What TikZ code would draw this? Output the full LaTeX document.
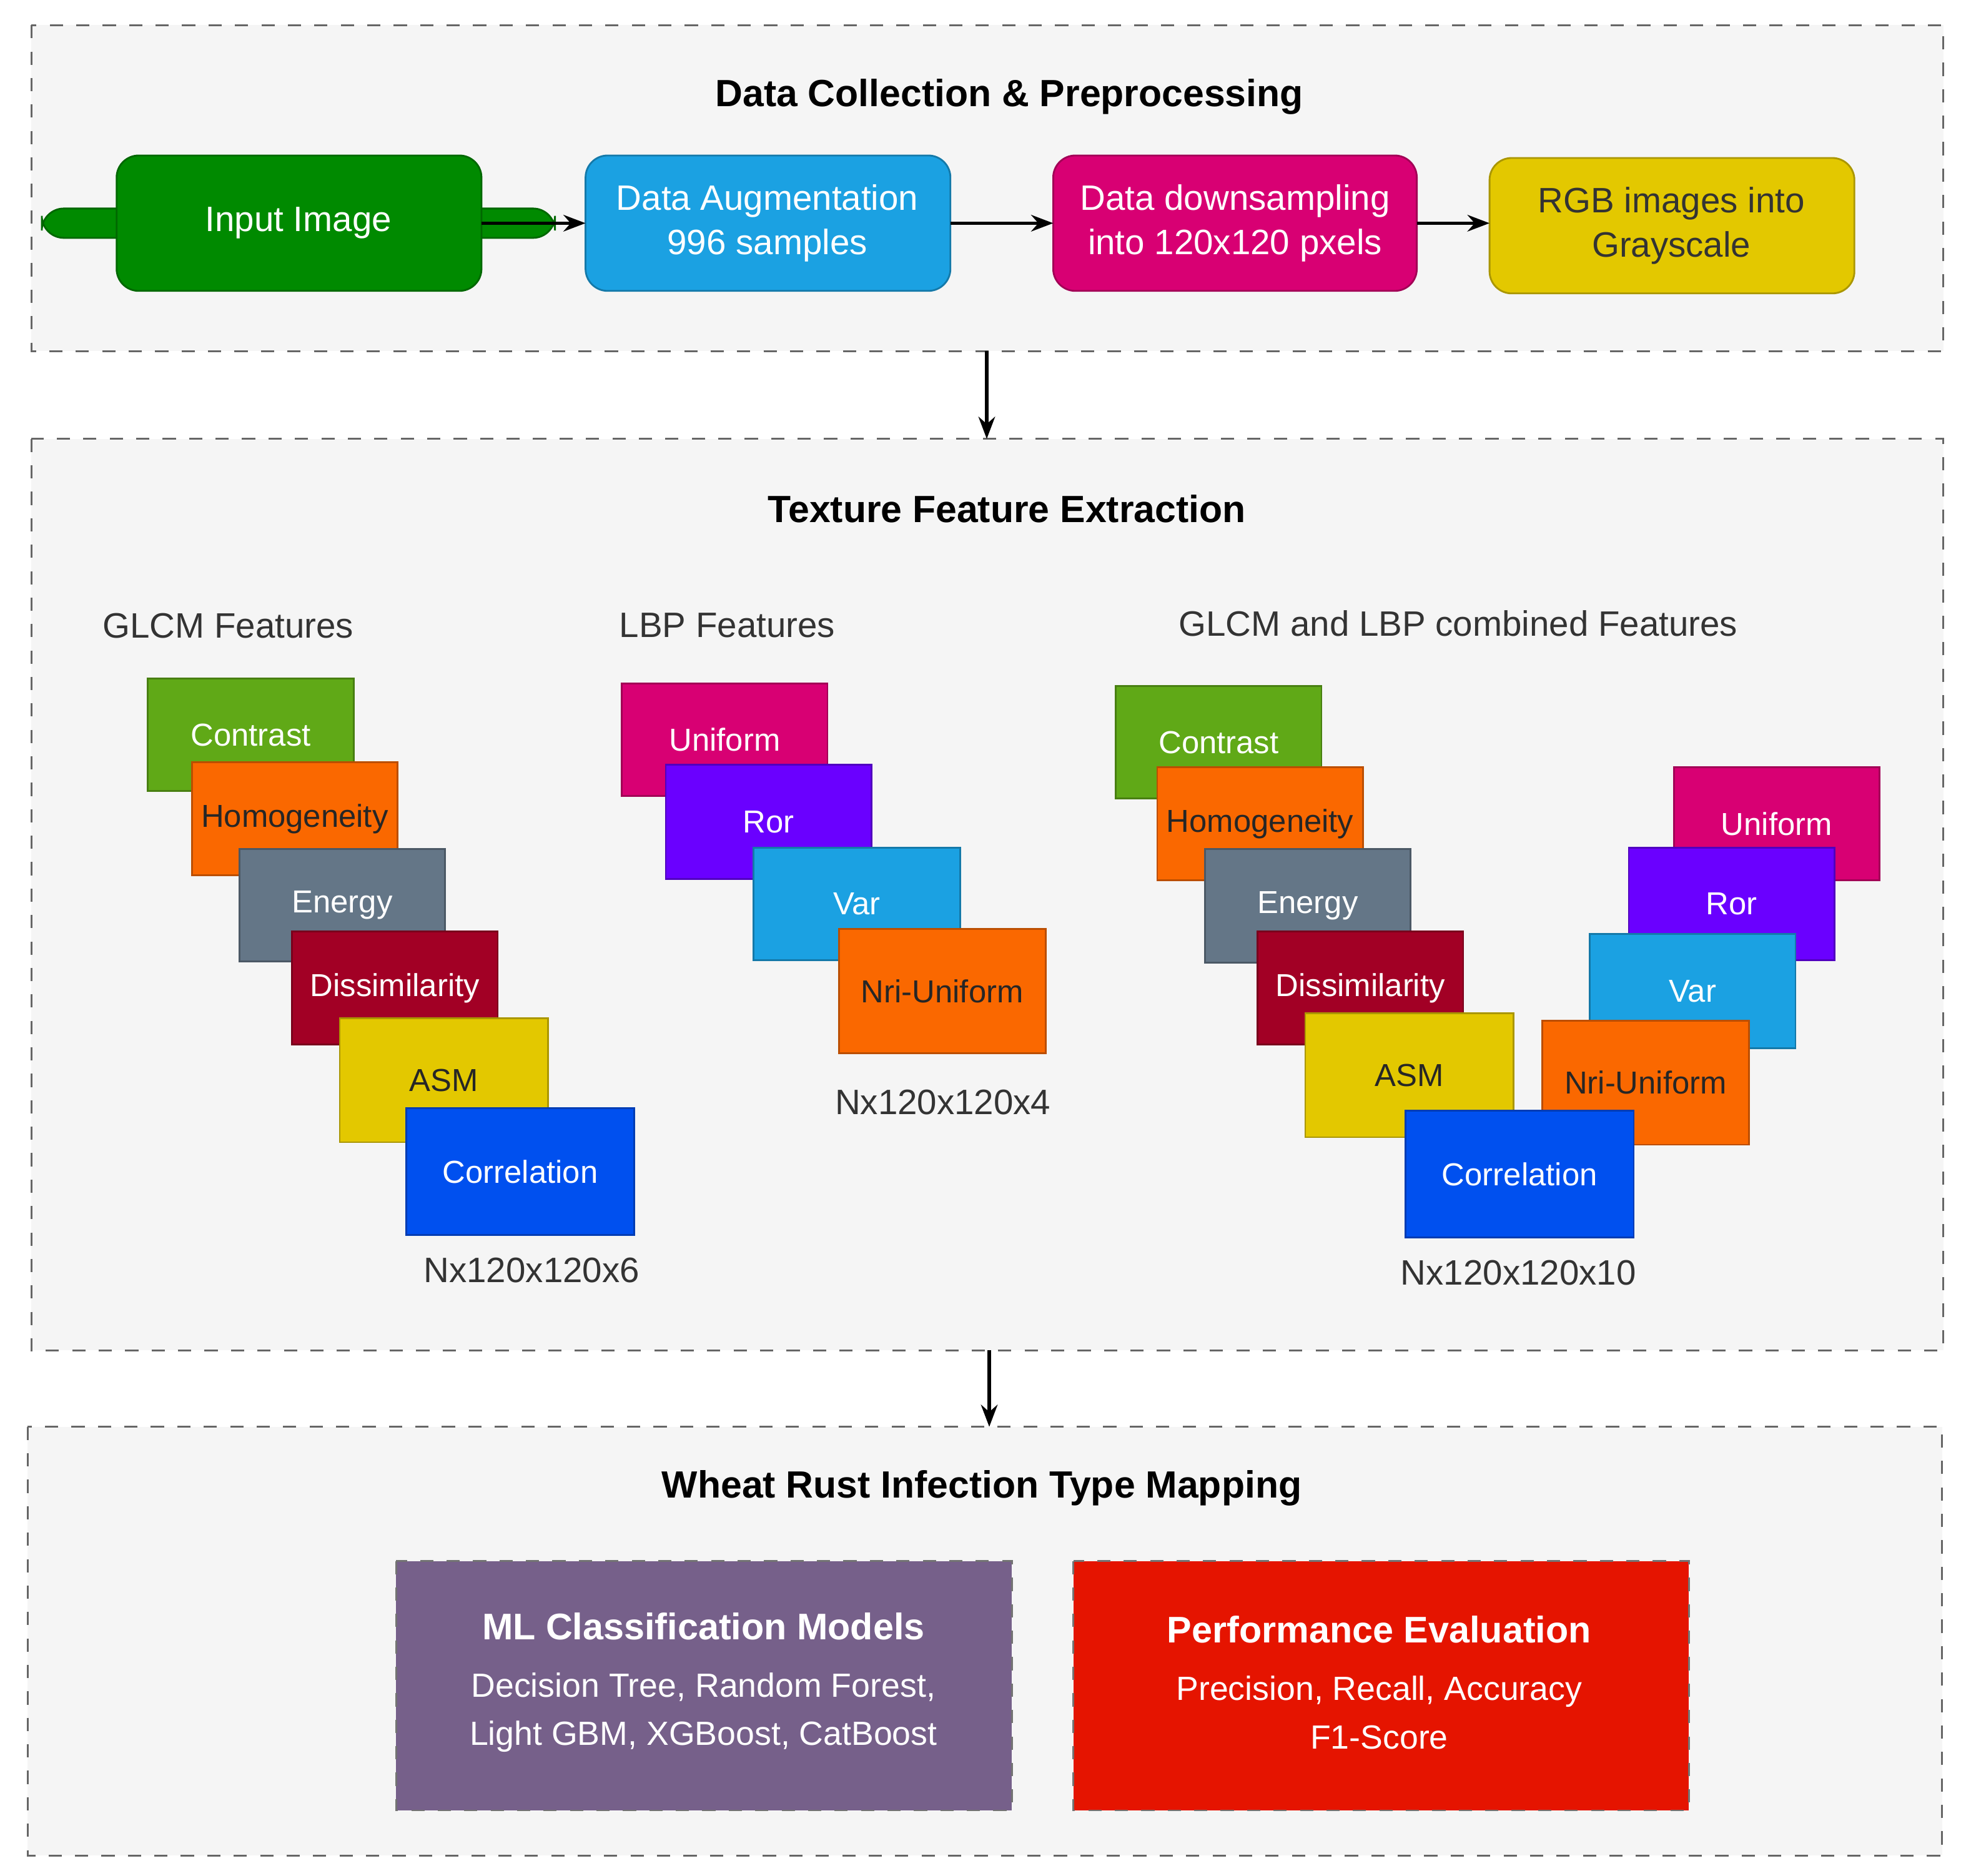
\documentclass[tikz,border=0pt]{standalone}
\usepackage{fontspec}
\setmainfont{Liberation Sans}
\usetikzlibrary{arrows.meta}
\definecolor{pbg}{HTML}{F5F5F5}
\definecolor{cgreen}{HTML}{008A00}
\definecolor{cblue}{HTML}{1BA1E2}
\definecolor{cmag}{HTML}{D80073}
\definecolor{cyel}{HTML}{E3C800}
\definecolor{clime}{HTML}{60A917}
\definecolor{corange}{HTML}{FA6800}
\definecolor{cslate}{HTML}{647687}
\definecolor{ccrim}{HTML}{A20025}
\definecolor{ccob}{HTML}{0050EF}
\definecolor{cviol}{HTML}{6A00FF}
\definecolor{cmauve}{HTML}{76608A}
\definecolor{cred}{HTML}{E51400}
\begin{document}
\begin{tikzpicture}[x=0.01cm,y=-0.01cm,
 panel/.style={draw=black!60,dashed,fill=pbg},
 title/.style={font=\bfseries\fontsize{8.6}{10}\selectfont},
 lab/.style={font=\fontsize{8}{10}\selectfont,text=black!80},
 pbox/.style={rounded corners=5pt,draw=#1!75!black,fill=#1,text=white,font=\fontsize{8}{10}\selectfont,align=center},
 feat/.style={draw=#1!75!black,fill=#1,text=white,font=\fontsize{7.2}{9}\selectfont},
 featd/.style={draw=#1!75!black,fill=#1,text=black!85,font=\fontsize{7.2}{9}\selectfont},
 arr/.style={-{Stealth[length=5pt]},thick}]
\useasboundingbox (0,0) rectangle (1568,1496);
% panels
\draw[panel] (25,20) rectangle (1550,280);
\draw[panel] (25,350) rectangle (1550,1077);
\draw[panel] (22,1138) rectangle (1549,1480);
\node[title] (t1) at (805,77) {Data Collection \& Preprocessing};
\node[title] (t2) at (803,406) {Texture Feature Extraction};
\node[title] (t3) at (783,1187) {Wheat Rust Infection Type Mapping};
\coordinate (p1b) at (787,280); \coordinate (p2t) at (787,350);
\coordinate (p2b) at (789,1077); \coordinate (p3t) at (789,1138);
\draw[arr] (p1b) -- (p2t);
\draw[arr] (p2b) -- (p3t);
% top row
\node[pbox=cgreen,minimum width=291\pgflinewidth,text width=2.7cm] (in) at (238,178) {};
\path[pbox=cgreen] (93,124) rectangle (384,232);
\node[text=white,font=\fontsize{8}{10}\selectfont] (inT) at (238,178) {Input Image};
\path[pbox=cblue] (467,124) rectangle (758,232);
\node[text=white,font=\fontsize{8}{10}\selectfont,align=center] (aug) at (612,178) {Data Augmentation\\996 samples};
\path[pbox=cmag] (840,124) rectangle (1130,232);
\node[text=white,font=\fontsize{8}{10}\selectfont,align=center] (down) at (985,178) {Data downsampling\\into 120x120 pxels};
\path[pbox=cyel] (1188,126) rectangle (1479,234);
\node[text=black!80,font=\fontsize{8}{10}\selectfont,align=center] (rgb) at (1333,180) {RGB images into\\Grayscale};
\coordinate (a1s) at (384,178); \coordinate (a1e) at (467,178);
\coordinate (a2s) at (758,178); \coordinate (a2e) at (840,178);
\coordinate (a3s) at (1130,178); \coordinate (a3e) at (1188,178);
\draw[arr] (a1s) -- (a1e); \draw[arr] (a2s) -- (a2e); \draw[arr] (a3s) -- (a3e);
% labels
\node[lab] (l1) at (182,499) {GLCM Features};
\node[lab] (l2) at (580,499) {LBP Features};
\node[lab] (l3) at (1163,497) {GLCM and LBP combined Features};
\newcommand{\fb}[7]{\path[#1=#2] (#3,#4) rectangle (#5,#6); \node[#1=#2,draw=none,fill=none] at ({(#3+#5)/2},{(#4+#6)/2}) {#7};}
% GLCM
\fb{feat}{clime}{118}{541}{282}{631}{Contrast}
\fb{featd}{corange}{153}{608}{317}{698}{Homogeneity}
\fb{feat}{cslate}{191}{677}{355}{767}{Energy}
\fb{feat}{ccrim}{233}{743}{397}{833}{Dissimilarity}
\fb{featd}{cyel}{271}{812}{437}{911}{ASM}
\fb{feat}{ccob}{324}{884}{506}{985}{Correlation}
\node[lab] (n1) at (424,1013) {Nx120x120x6};
% LBP
\fb{feat}{cmag}{496}{545}{660}{635}{Uniform}
\fb{feat}{cviol}{531}{610}{695}{701}{Ror}
\fb{feat}{cblue}{601}{676}{766}{766}{Var}
\fb{featd}{corange}{669}{741}{834}{840}{Nri-Uniform}
\node[lab] (n2) at (752,879) {Nx120x120x4};
% combined
\fb{feat}{clime}{890}{547}{1054}{637}{Contrast}
\fb{featd}{corange}{923}{612}{1087}{702}{Homogeneity}
\fb{feat}{cslate}{961}{677}{1125}{768}{Energy}
\fb{feat}{ccrim}{1003}{743}{1167}{833}{Dissimilarity}
\fb{featd}{cyel}{1041}{808}{1207}{907}{ASM}
\fb{feat}{cmag}{1335}{612}{1499}{702}{Uniform}
\fb{feat}{cviol}{1299}{676}{1463}{766}{Ror}
\fb{feat}{cblue}{1268}{745}{1432}{836}{Var}
\fb{featd}{corange}{1230}{814}{1395}{913}{Nri-Uniform}
\fb{feat}{ccob}{1121}{886}{1303}{987}{Correlation}
\node[lab] (n3) at (1211,1015) {Nx120x120x10};
% bottom
\path[draw=black!55,dashed,fill=cmauve] (316,1245) rectangle (807,1444);
\node[text=white,align=center,font=\fontsize{7.6}{11}\selectfont] (ml) at (561,1342) {{\bfseries\fontsize{8.4}{11}\selectfont ML Classification Models}\\[2pt]Decision Tree, Random Forest,\\Light GBM, XGBoost, CatBoost};
\path[draw=black!55,dashed,fill=cred] (856,1245) rectangle (1347,1444);
\node[text=white,align=center,font=\fontsize{7.6}{11}\selectfont] (pe) at (1100,1342) {{\bfseries\fontsize{8.4}{11}\selectfont Performance Evaluation}\\[2pt]Precision, Recall, Accuracy\\F1-Score};
\end{tikzpicture}
\end{document}
